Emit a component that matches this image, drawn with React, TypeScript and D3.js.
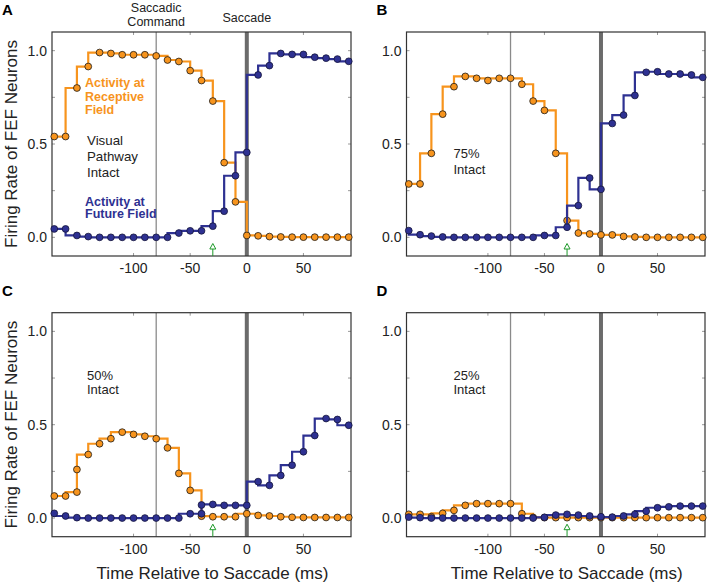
import React from 'react';
import * as d3 from 'd3';

// time bins (ms relative to saccade onset)
const times = [-170, -160, -150, -140, -130, -120, -110, -100, -90, -80, -70, -60, -50, -40, -30, -20, -10, 0, 10, 20, 30, 40, 50, 60, 70, 80, 90];

// A: visual pathway intact
const orangeA = [0.54, 0.54, 0.80, 0.915, 0.99, 0.985, 0.978, 0.978, 0.978, 0.972, 0.95, 0.942, 0.893, 0.84, 0.73, 0.40, 0.19, 0.01, 0.008, 0.004, 0.002, 0.001, 0.001, 0.001, 0.001, 0.001, 0.001];
const blueA = [0.045, 0.045, 0.01, 0.004, 0, 0, 0, 0, 0, 0, 0, 0.023, 0.035, 0.035, 0.06, 0.14, 0.33, 0.455, 0.87, 0.92, 0.985, 0.98, 0.98, 0.965, 0.96, 0.955, 0.943];
// B: 75% intact
const orangeB = [0.286, 0.286, 0.45, 0.66, 0.807, 0.862, 0.852, 0.84, 0.852, 0.852, 0.82, 0.73, 0.68, 0.45, 0.09, 0.023, 0.018, 0.013, 0.013, 0.005, 0.002, 0, 0, 0, 0, 0, 0];
const blueB = [0.036, 0.014, 0.007, 0.002, 0, 0, 0, 0, 0, 0, 0, 0, 0.01, 0.01, 0.054, 0.17, 0.318, 0.257, 0.61, 0.655, 0.76, 0.884, 0.887, 0.875, 0.875, 0.87, 0.857];
// C: 50% intact
const orangeC = [0.118, 0.118, 0.139, 0.34, 0.398, 0.425, 0.46, 0.448, 0.438, 0.425, 0.376, 0.239, 0.148, 0.01, 0.007, 0.007, 0.007, 0.023, 0.014, 0.011, 0.007, 0.004, 0.003, 0.003, 0.003, 0.003, 0.003];
const blueC = [0.025, 0.011, 0.002, 0, 0, 0, 0, 0, 0, 0, 0, 0, 0.023, 0.023, 0.073, 0.068, 0.068, 0.068, 0.195, 0.175, 0.228, 0.283, 0.355, 0.442, 0.533, 0.528, 0.497];
const extraOrangeC: [number, number][] = [[-150, 0.26]];
const extraBlueC: [number, number][] = [[-40, 0.07]];
// D: 25% intact
const orangeD = [0.02, 0.02, 0.007, 0.025, 0.041, 0.068, 0.077, 0.077, 0.077, 0.077, 0.023, 0.003, 0.002, 0.002, 0.002, 0.002, 0.002, 0.002, 0.002, 0.002, 0.002, 0.002, 0.002, 0.002, 0.002, 0.002, 0.002];
const blueD = [0.005, 0.002, 0, 0, 0, 0, 0, 0, 0, 0, 0, 0, 0.004, 0.016, 0.02, 0.016, 0.011, 0.007, 0.005, 0.011, 0.02, 0.037, 0.055, 0.06, 0.064, 0.064, 0.064];

const xTicks = [-100, -50, 0, 50];
const yTicks = [0, 0.25, 0.5, 0.75, 1];
const yLabels = [0, 0.5, 1];
const commandTime = -80;
const saccadeTime = 0;
const markerTime = -30;

const ORANGE = '#f7941d';
const BLUE = '#2e3192';
const FONT = '"Liberation Sans", Arial, sans-serif';

type Note = { lines: string[]; color: string; bold?: boolean; size: number; dx: number; dy: number; gap: number };

// orange trace: each step holds the higher of the two neighbouring bins
function maxSteps(vals: number[]): [number, number][] {
  const pts: [number, number][] = [];
  for (let i = 0; i < vals.length - 1; i++) {
    const lvl = Math.max(vals[i], vals[i + 1]);
    pts.push([times[i], vals[i]], [times[i], lvl], [times[i + 1], lvl]);
  }
  pts.push([times[times.length - 1], vals[vals.length - 1]]);
  return pts;
}

function Panel(props: {
  letter: string; x0: number; x1: number; y0: number; y1: number;
  orange: number[]; blue: number[];
  extraOrange?: [number, number][]; extraBlue?: [number, number][];
  notes: Note[]; yTitle?: boolean; xTitle?: boolean; header?: boolean;
}) {
  const { x0, x1, y0, y1 } = props;
  const x = d3.scaleLinear().domain([-172, 92]).range([x0, x1]);
  const y = d3.scaleLinear().domain([-0.1, 1.1]).range([y1, y0]);
  const line = d3.line<[number, number]>().x(d => x(d[0])).y(d => y(d[1]));
  const lineBefore = d3.line<[number, number]>().x(d => x(d[0])).y(d => y(d[1])).curve(d3.curveStepBefore);
  const oPts = props.orange.map((v, i) => [times[i], v] as [number, number]);
  const bPts = props.blue.map((v, i) => [times[i], v] as [number, number]);
  const r = 3.4;
  const ax = x(markerTime);

  return (
    <g fontFamily={FONT}>
      <text x={props.letter === 'A' || props.letter === 'C' ? 2 : x0 - 30} y={y0 - 17} fontSize={15} fontWeight="bold">{props.letter}</text>
      {props.header && (
        <g fontSize={12.5} textAnchor="middle" fill="#222">
          <text x={x(commandTime)} y={y0 - 20.5}>Saccadic</text>
          <text x={x(commandTime)} y={y0 - 6.5}>Command</text>
          <text x={x(saccadeTime)} y={y0 - 10.5}>Saccade</text>
        </g>
      )}
      <rect x={x0} y={y0} width={x1 - x0} height={y1 - y0} fill="white" />
      {yTicks.map(t => (
        <g key={'y' + t} stroke="#999" strokeWidth={1}>
          <line x1={x0} x2={x0 + 3} y1={y(t)} y2={y(t)} />
          <line x1={x1} x2={x1 - 3} y1={y(t)} y2={y(t)} />
        </g>
      ))}
      {xTicks.map(t => (
        <g key={'x' + t} stroke="#999" strokeWidth={1}>
          <line x1={x(t)} x2={x(t)} y1={y1} y2={y1 - 3} />
          <line x1={x(t)} x2={x(t)} y1={y0} y2={y0 + 3} />
        </g>
      ))}
      <line x1={x(commandTime)} x2={x(commandTime)} y1={y0} y2={y1} stroke="#8a8a8a" strokeWidth={1.3} />
      <line x1={x(saccadeTime)} x2={x(saccadeTime)} y1={y0} y2={y1} stroke="#6b6b6b" strokeWidth={4} />
      <rect x={x0} y={y0} width={x1 - x0} height={y1 - y0} fill="none" stroke="#333" strokeWidth={1.2} />

      <path d={line(maxSteps(props.orange)) || ''} fill="none" stroke={ORANGE} strokeWidth={2.2} strokeLinejoin="miter" />
      {oPts.concat(props.extraOrange || []).map((d, i) => (
        <circle key={'o' + i} cx={x(d[0])} cy={y(d[1])} r={r} fill={ORANGE} stroke="#1a1a1a" strokeWidth={0.8} />
      ))}
      <path d={lineBefore(bPts) || ''} fill="none" stroke={BLUE} strokeWidth={2.2} />
      {bPts.concat(props.extraBlue || []).map((d, i) => (
        <circle key={'b' + i} cx={x(d[0])} cy={y(d[1])} r={r} fill={BLUE} stroke="#15153a" strokeWidth={0.8} />
      ))}

      <g stroke="#1e9a2a" strokeWidth={1} fill="white">
        <line x1={ax} x2={ax} y1={y1} y2={y1 - 7} />
        <path d={`M${ax},${y1 - 12.5}L${ax + 3},${y1 - 7}L${ax - 3},${y1 - 7}Z`} />
      </g>

      {props.notes.map((n, i) => (
        <text key={'n' + i} x={x0 + n.dx} y={y0 + n.dy} fill={n.color} fontSize={n.size} fontWeight={n.bold ? 'bold' : 'normal'}>
          {n.lines.map((s, j) => (
            <tspan key={j} x={x0 + n.dx} y={y0 + n.dy + j * n.gap}>{s}</tspan>
          ))}
        </text>
      ))}

      {yLabels.map(t => (
        <text key={'yl' + t} x={x0 - 5} y={y(t)} dy="0.36em" textAnchor="end" fontSize={14} fill="#222">{t.toFixed(1)}</text>
      ))}
      {xTicks.map(t => (
        <text key={'xl' + t} x={x(t)} y={y1 + 17} textAnchor="middle" fontSize={14} fill="#222">{t}</text>
      ))}
      {props.yTitle && (
        <text transform={`translate(17,${(y0 + y1) / 2}) rotate(-90)`} textAnchor="middle" fontSize={17} fill="#222">Firing Rate of FEF Neurons</text>
      )}
      {props.xTitle && (
        <text x={(x0 + x1) / 2 + 11} y={y1 + 42.5} textAnchor="middle" fontSize={17} fill="#222">Time Relative to Saccade (ms)</text>
      )}
    </g>
  );
}

export default function App() {
  const left = [52, 351];
  const right = [406.5, 705];
  const top = [32, 256];
  const bottom = [312.7, 536.7];
  const intact = (pct: string, gap: number): Note[] => [
    { lines: [pct, 'Intact'], color: '#222', size: 13, dx: 47, dy: 0, gap },
  ];
  const notesA: Note[] = [
    { lines: ['Activity at', 'Receptive', 'Field'], color: ORANGE, bold: true, size: 12.5, dx: 33, dy: 55, gap: 13.6 },
    { lines: ['Visual', 'Pathway', 'Intact'], color: '#222', size: 13.3, dx: 35, dy: 112.7, gap: 16.3 },
    { lines: ['Activity at', 'Future Field'], color: BLUE, bold: true, size: 12.5, dx: 33, dy: 173.5, gap: 12.5 },
  ];
  const notesB = intact('75%', 16).map(n => ({ ...n, dy: 126 }));
  const notesC = intact('50%', 14.3).map(n => ({ ...n, dx: 35, dy: 67 }));
  const notesD = intact('25%', 14.3).map(n => ({ ...n, dy: 67 }));

  return (
    <svg width={709} height={586} style={{ position: 'absolute', left: 0, top: 0, display: 'block', background: 'white' }}>
      <Panel letter="A" x0={left[0]} x1={left[1]} y0={top[0]} y1={top[1]} orange={orangeA} blue={blueA} notes={notesA} yTitle header />
      <Panel letter="B" x0={right[0]} x1={right[1]} y0={top[0]} y1={top[1]} orange={orangeB} blue={blueB} notes={notesB} />
      <Panel letter="C" x0={left[0]} x1={left[1]} y0={bottom[0]} y1={bottom[1]} orange={orangeC} blue={blueC}
        extraOrange={extraOrangeC} extraBlue={extraBlueC} notes={notesC} yTitle xTitle />
      <Panel letter="D" x0={right[0]} x1={right[1]} y0={bottom[0]} y1={bottom[1]} orange={orangeD} blue={blueD} notes={notesD} xTitle />
    </svg>
  );
}
